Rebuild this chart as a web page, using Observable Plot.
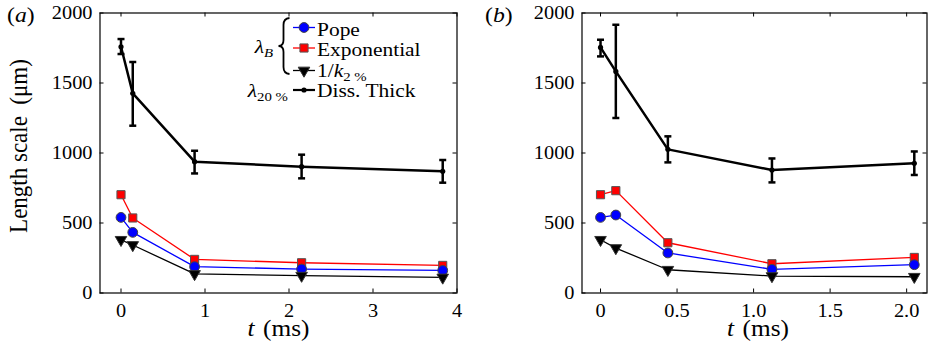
<!DOCTYPE html>
<html><head><meta charset="utf-8">
<script src="https://cdn.jsdelivr.net/npm/d3@7"></script>
<script src="https://cdn.jsdelivr.net/npm/@observablehq/plot@0.6"></script>
<style>
body{margin:0;background:#fff;}
#wrap{position:relative;width:931px;height:355px;font-family:"Liberation Serif",serif;}
#wrap svg{position:absolute;top:0;overflow:visible;}
#wrap svg, #wrap svg text, #wrap svg tspan{font-family:"Liberation Serif","Times New Roman",serif !important;}
</style></head><body><div id="wrap"></div>
<script>
// ---- data ----
const tA = [0, 0.14, 0.876, 2.15, 3.83];
const popeA = [540, 433, 188, 171, 161];
const expA = [702, 536, 240, 216, 197];
const k2A = [380, 343, 136, 124, 111];
const dissA = [1759, 1426, 938, 902, 869];
const dissLoA = [1707, 1195, 854, 819, 788];
const dissHiA = [1814, 1650, 1016, 988, 950];

const tB = [0, 0.10, 0.44, 1.12, 2.05];
const popeB = [540, 557, 286, 169, 202];
const expB = [702, 731, 359, 209, 254];
const k2B = [380, 321, 166, 121, 116];
const dissB = [1754, 1583, 1026, 878, 926];
const dissLoB = [1690, 1250, 933, 790, 843];
const dissHiB = [1809, 1916, 1119, 961, 1011];

const yTicks = [0, 500, 1000, 1500, 2000];
const xTicksA = [0, 1, 2, 3, 4];
const xTicksB = [0, 0.5, 1, 1.5, 2];
const xTickLabelsB = ["0", "0.5", "1.0", "1.5", "2.0"];

const legendLabels = ["Pope", "Exponential", "1/k2 %", "Diss. Thick"];

function rowsOf(t, pope, exp, k2, diss, lo, hi) {
  return t.map((v, i) => ({t: v, pope: pope[i], exp: exp[i], k2: k2[i], diss: diss[i], lo: lo[i], hi: hi[i]}));
}

const cap = {draw(ctx, size) { ctx.moveTo(-3.5, 0); ctx.lineTo(3.5, 0); }};
const triDown = {draw(ctx, size) {
  const s3 = Math.sqrt(3);
  const y = -Math.sqrt(size / (s3 * 3));
  ctx.moveTo(0, -y * 2); ctx.lineTo(-s3 * y, y); ctx.lineTo(s3 * y, y); ctx.closePath();
}};

const H = 355, MT = 12.5, MB = 62.5, FH = H - MT - MB;
const FONT = "Liberation Serif, Times New Roman, serif";
const TICKFS = 18.5;
const SX = 1.1; // horizontal stretch of the typeset text in the reference

function panel({rows, width, ml, mr, xDomain, xTicks, xFormat}) {
  const FW = width - ml - mr;
  return Plot.plot({
    width, height: H, marginLeft: ml, marginRight: mr, marginTop: MT, marginBottom: MB,
    style: {fontFamily: FONT, fontSize: TICKFS + "px", background: "transparent", color: "black", overflow: "visible"},
    x: {domain: xDomain}, y: {domain: [0, 2000]},
    marks: [
      Plot.ruleX(xTicks, {insetTop: FH - 4, stroke: "black"}),
      Plot.ruleX(xTicks, {insetBottom: FH - 4, stroke: "black"}),
      Plot.ruleY(yTicks, {insetRight: FW - 4, stroke: "black"}),
      Plot.ruleY(yTicks, {insetLeft: FW - 4, stroke: "black"}),
      Plot.axisX({ticks: xTicks, tickSize: 0, tickPadding: 11, tickFormat: xFormat, label: null, fontSize: TICKFS}),
      Plot.axisY({ticks: yTicks, tickSize: 0, tickPadding: 7.5, tickFormat: d => String(d), label: null, fontSize: TICKFS}),
      Plot.line(rows, {x: "t", y: "exp", stroke: "#ff0000", strokeWidth: 1.3}),
      Plot.line(rows, {x: "t", y: "pope", stroke: "#0000ff", strokeWidth: 1.3}),
      Plot.line(rows, {x: "t", y: "k2", stroke: "black", strokeWidth: 1.3}),
      Plot.dot(rows, {x: "t", y: "exp", symbol: "square", r: 4.6, fill: "#ff0000", stroke: "#555", strokeWidth: 1}),
      Plot.dot(rows, {x: "t", y: "pope", symbol: "circle", r: 4.9, fill: "#0000ff", stroke: "#444", strokeWidth: 1}),
      Plot.dot(rows, {x: "t", y: "k2", symbol: triDown, r: 4.3, fill: "black", stroke: "#333", strokeWidth: 1}),
      Plot.ruleX(rows, {x: "t", y1: "lo", y2: "hi", stroke: "black", strokeWidth: 2.5}),
      Plot.dot(rows, {x: "t", y: "lo", symbol: cap, fill: "none", stroke: "black", strokeWidth: 2.5}),
      Plot.dot(rows, {x: "t", y: "hi", symbol: cap, fill: "none", stroke: "black", strokeWidth: 2.5}),
      Plot.line(rows, {x: "t", y: "diss", stroke: "black", strokeWidth: 2.5}),
      Plot.dot(rows, {x: "t", y: "diss", r: 2.6, fill: "black"}),
      Plot.frame({stroke: "black", strokeWidth: 1.2})
    ]
  });
}

// stretch Plot's tick labels horizontally (about their own anchor) like the reference's type
function stretchTexts(svg) {
  d3.select(svg).selectAll("text").each(function() {
    const xs = this.getAttribute("x");
    const x = xs && !/em$/.test(xs) ? parseFloat(xs) || 0 : 0;
    const tr = this.getAttribute("transform") || "";
    this.setAttribute("transform", `${tr} translate(${x},0) scale(${SX},1) translate(${-x},0)`);
  });
}

const wrap = document.getElementById("wrap");
const svgA = panel({rows: rowsOf(tA, popeA, expA, k2A, dissA, dissLoA, dissHiA), width: 470, ml: 99.5, mr: 13.5,
  xDomain: [-0.25, 4.0], xTicks: xTicksA, xFormat: d => String(d)});
const svgB = panel({rows: rowsOf(tB, popeB, expB, k2B, dissB, dissLoB, dissHiB), width: 461, ml: 111.5, mr: 4.5,
  xDomain: [-0.121, 2.133], xTicks: xTicksB, xFormat: (d, i) => xTickLabelsB[i]});
stretchTexts(svgA);
stretchTexts(svgB);
svgA.style.left = "0px";
svgB.style.left = "470px";
wrap.appendChild(svgA);
wrap.appendChild(svgB);

function addText(svg, x, y, parts, opts = {}) {
  const t = d3.select(svg).append("text")
    .attr("transform", `translate(${x},${y}) scale(${SX},1)${opts.rotate ? ` rotate(${opts.rotate})` : ""}`)
    .attr("font-family", FONT).attr("font-size", opts.size || 20).attr("fill", "black")
    .attr("text-anchor", opts.anchor || "start").style("white-space", "pre");
  for (const p of parts) {
    const s = t.append("tspan").text(p.text);
    if (p.italic) s.attr("font-style", "italic");
    if (p.size) s.attr("font-size", p.size);
    if (p.dy) s.attr("dy", p.dy);
    if (p.dx) s.attr("dx", p.dx);
  }
  return t;
}

// panel labels
addText(svgA, 7, 22, [{text: "("}, {text: "a", italic: true}, {text: ")"}], {size: 21.5});
addText(svgB, 15, 22, [{text: "("}, {text: "b", italic: true}, {text: ")"}], {size: 21.5});
// x labels
addText(svgA, 278.5, 336, [{text: "t", italic: true}, {text: " (ms)", dx: 2}], {size: 23, anchor: "middle"});
addText(svgB, 288, 336, [{text: "t", italic: true}, {text: " (ms)", dx: 2}], {size: 23, anchor: "middle"});
// y label
addText(svgA, 27, 146, [{text: "Length scale\u00a0 (μm)"}], {size: 23, anchor: "middle", rotate: -90});

// legend (panel a)
const gA = d3.select(svgA).append("g");
const lx1 = 293, lx2 = 315, mx = 304;
const legendRows = [
  {y: 27.5, color: "#0000ff", sym: d3.symbolCircle, r: 4.9, fill: "#0000ff", stroke: "#444", w: 1.3},
  {y: 48, color: "#ff0000", sym: d3.symbolSquare, r: 4.6, fill: "#ff0000", stroke: "#555", w: 1.3},
  {y: 70.5, color: "black", sym: triDown, r: 4.3, fill: "black", stroke: "#333", w: 1.3},
  {y: 90, color: "black", sym: d3.symbolCircle, r: 2.6, fill: "black", stroke: "none", w: 2.2}
];
legendRows.forEach((d, i) => {
  gA.append("line").attr("x1", lx1).attr("x2", lx2).attr("y1", d.y).attr("y2", d.y)
    .attr("stroke", d.color).attr("stroke-width", d.w);
  gA.append("path").attr("transform", `translate(${mx},${d.y})`)
    .attr("d", d3.symbol(d.sym, d.r * d.r * Math.PI)())
    .attr("fill", d.fill).attr("stroke", d.stroke);
});
const LFS = 19.5, SUB = 13.5;
const base = [35.5, 56, 77, 97];
addText(svgA, 317, base[0], [{text: legendLabels[0]}], {size: LFS});
addText(svgA, 317, base[1], [{text: legendLabels[1]}], {size: LFS});
addText(svgA, 317, base[2], [{text: "1/"}, {text: "k", italic: true}, {text: "2 %", size: SUB, dy: 4}], {size: LFS});
addText(svgA, 317, base[3], [{text: legendLabels[3]}], {size: LFS});
addText(svgA, 273, 53, [{text: "λ", italic: true}, {text: "B", italic: true, size: SUB, dy: 4}], {size: LFS, anchor: "end"});
addText(svgA, 288, 97, [{text: "λ", italic: true}, {text: "20 %", size: SUB, dy: 4}], {size: LFS, anchor: "end"});
// brace
gA.append("path")
  .attr("d", "M289.5,18 Q283.5,18.5 283.5,25 L283.5,40 Q283.5,46 278.5,46 Q283.5,46 283.5,52 L283.5,67 Q283.5,73.5 289.5,74")
  .attr("fill", "none").attr("stroke", "black").attr("stroke-width", 1.8);
</script></body></html>
